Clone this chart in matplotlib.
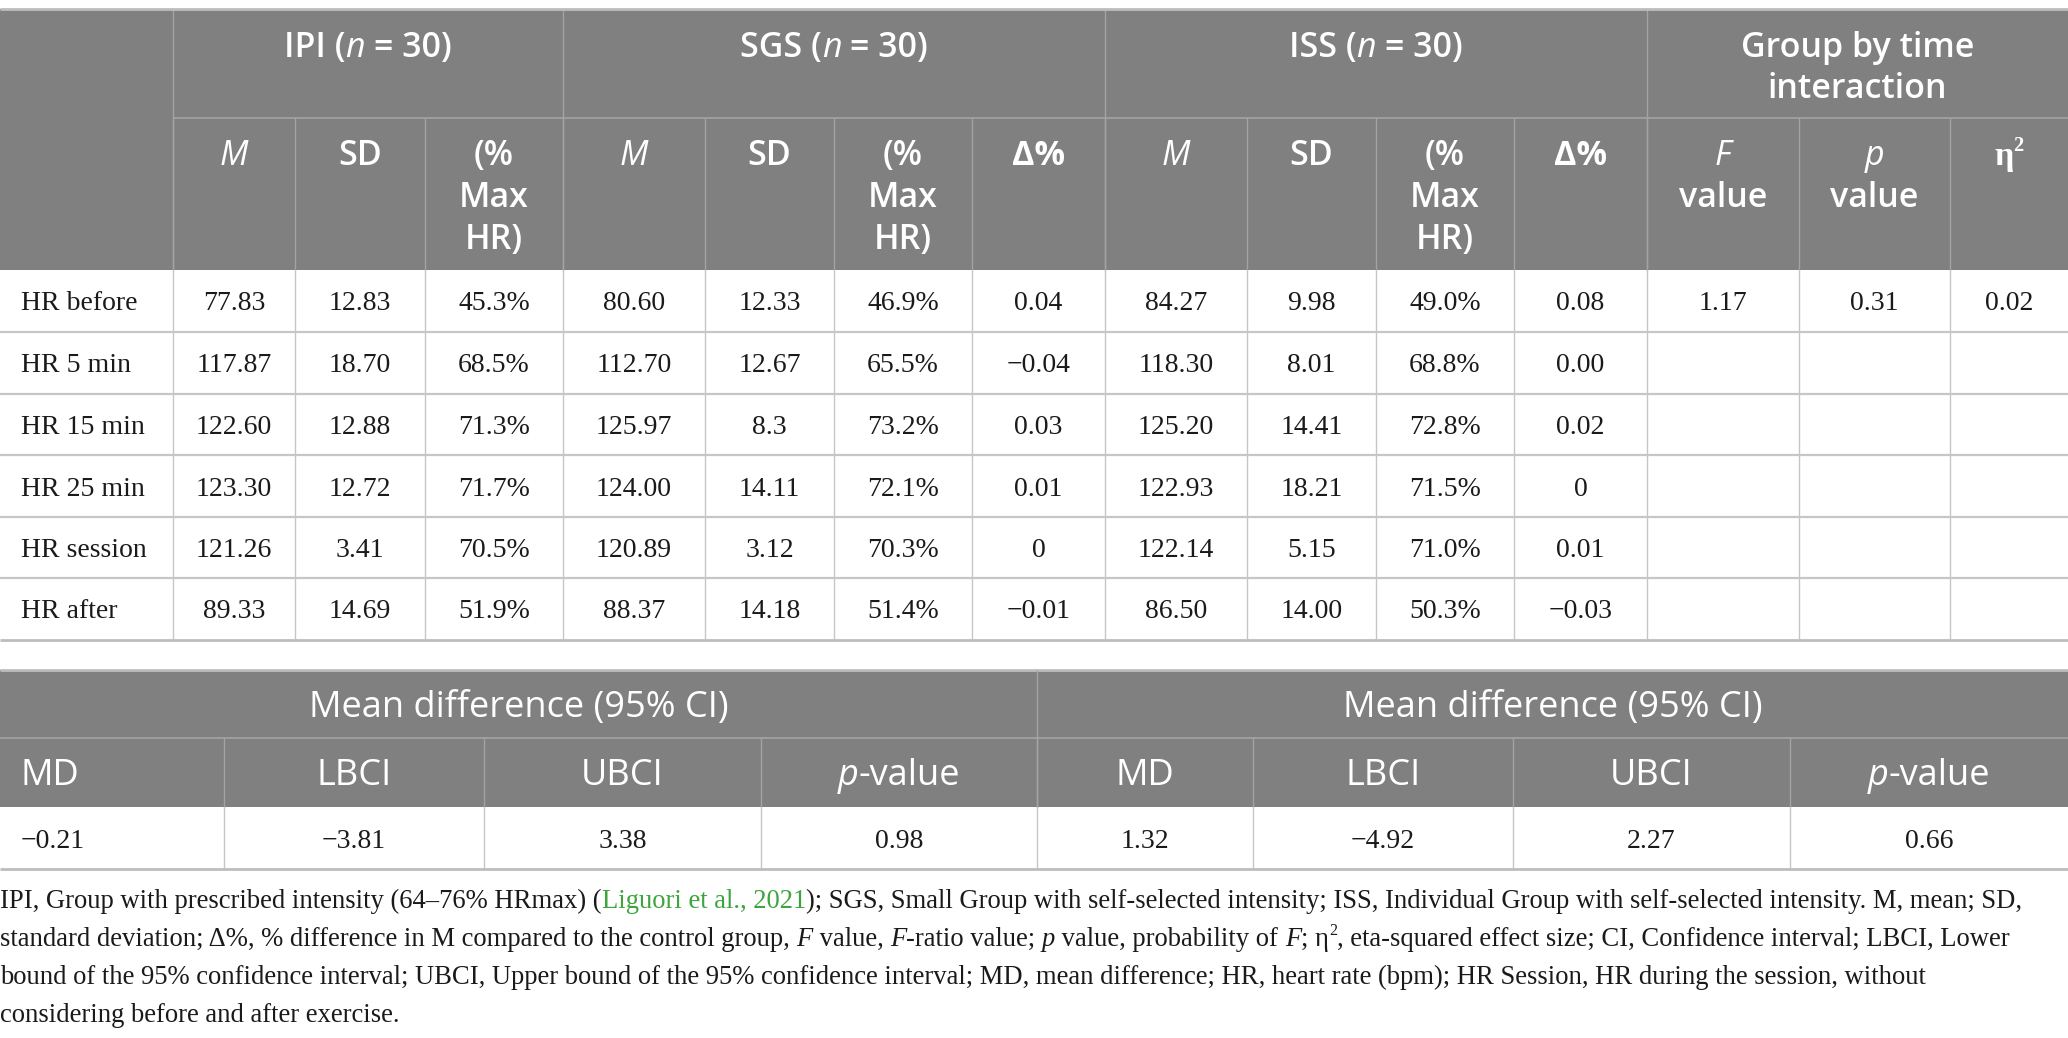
import matplotlib
matplotlib.use('Agg')
import matplotlib.pyplot as plt

# ---- data ----
row_labels = ['HR before', 'HR 5 min', 'HR 15 min', 'HR 25 min', 'HR session', 'HR after']
ipi_m = ['77.83', '117.87', '122.60', '123.30', '121.26', '89.33']
ipi_sd = ['12.83', '18.70', '12.88', '12.72', '3.41', '14.69']
ipi_pct = ['45.3%', '68.5%', '71.3%', '71.7%', '70.5%', '51.9%']
sgs_m = ['80.60', '112.70', '125.97', '124.00', '120.89', '88.37']
sgs_sd = ['12.33', '12.67', '8.3', '14.11', '3.12', '14.18']
sgs_pct = ['46.9%', '65.5%', '73.2%', '72.1%', '70.3%', '51.4%']
sgs_delta = ['0.04', '\u22120.04', '0.03', '0.01', '0', '\u22120.01']
iss_m = ['84.27', '118.30', '125.20', '122.93', '122.14', '86.50']
iss_sd = ['9.98', '8.01', '14.41', '18.21', '5.15', '14.00']
iss_pct = ['49.0%', '68.8%', '72.8%', '71.5%', '71.0%', '50.3%']
iss_delta = ['0.08', '0.00', '0.02', '0', '0.01', '\u22120.03']
f_value = ['1.17', '', '', '', '', '']
p_value = ['0.31', '', '', '', '', '']
eta_sq = ['0.02', '', '', '', '', '']

md_headers = ['MD', 'LBCI', 'UBCI', 'p-value']
md_first = ['\u22120.21', '\u22123.81', '3.38', '0.98']
md_second = ['1.32', '\u22124.92', '2.27', '0.66']

W, H = 2068, 1038
fig = plt.figure(figsize=(W / 100, H / 100), dpi=100)
ax = fig.add_axes([0, 0, 1, 1])
ax.set_xlim(0, W)
ax.set_ylim(H, 0)
ax.axis('off')
renderer = fig.canvas.get_renderer()

HEAD_BG = '#808080'
HEAD_LINE = '#a3a3a3'
GRID = '#c6c6c6'
TXT = '#1a1a1a'
SANS = 'Open Sans'
SERIF = 'Liberation Serif'
PX = 100 / 72.0


def runs(x, y, parts, ha='center', size=19, family=SERIF, color=TXT, weight='normal'):
    # draw a line made of several styled pieces, baseline at y
    objs = []
    for p in parts:
        if isinstance(p, str):
            p = (p, {})
        s, o = p
        fs = size * 0.6 if o.get('sup') else size
        yy = y - size * PX * 0.42 if o.get('sup') else y
        t = ax.text(0, yy, s, fontsize=fs, family=o.get('family', family),
                    style=o.get('style', 'normal'), color=o.get('color', color),
                    weight=o.get('weight', weight), ha='left', va='baseline')
        objs.append(t)
    widths = [t.get_window_extent(renderer).width for t in objs]
    total = sum(widths)
    if ha == 'center':
        x0 = x - total / 2
    elif ha == 'right':
        x0 = x - total
    else:
        x0 = x
    for t, w in zip(objs, widths):
        t.set_x(x0)
        x0 += w


def rect(x0, x1, y0, y1, fc):
    ax.fill_between([x0, x1], y0, y1, color=fc, lw=0, zorder=0)


def hline(x0, x1, y, c, lw):
    ax.plot([x0, x1], [y, y], color=c, lw=lw, solid_capstyle='butt', zorder=2)


def vline(x, y0, y1, c, lw):
    ax.plot([x, x], [y0, y1], color=c, lw=lw, solid_capstyle='butt', zorder=2)


# ---- main table ----
cols = [0, 173, 295, 425, 563, 705, 834, 972, 1105, 1247, 1376, 1514, 1647, 1799, 1950, 2068]
rows = [9, 118, 270, 332, 394, 455, 517, 578, 640]

rect(0, W, rows[0], rows[2], HEAD_BG)
# header lines
hline(173, W, rows[1], HEAD_LINE, 1.2)
for c in [173, 563, 1105, 1647]:
    vline(c, rows[0], rows[2], HEAD_LINE, 1.0)
for c in cols[1:-1]:
    vline(c, rows[1], rows[2], HEAD_LINE, 1.0)
hline(0, W, rows[0], '#bdbdbd', 2.0)

# group headers
hs = 24.5
hw = 'semibold'
group_x = [(173 + 563) / 2, (563 + 1105) / 2, (1105 + 1647) / 2]
for gx, name in zip(group_x, ['IPI', 'SGS', 'ISS']):
    runs(gx, 57, [name + ' (', ('n', {'style': 'italic', 'weight': 'normal'}), ' = 30)'],
         size=hs, family=SANS, color='white', weight=hw)
runs((1647 + W) / 2, 57, ['Group by time'], size=hs, family=SANS, color='white', weight=hw)
runs((1647 + W) / 2, 98, ['interaction'], size=hs, family=SANS, color='white', weight=hw)

# sub headers
sub_base = [165, 207, 249]
centers = [(cols[i] + cols[i + 1]) / 2 for i in range(len(cols) - 1)]
sub = {}
for i in [1, 4, 8]:
    sub[i] = [[('M', {'style': 'italic', 'weight': 'normal'})]]
    sub[i + 1] = [['SD']]
    sub[i + 2] = [['(%'], ['Max'], ['HR)']]
for i in [7, 11]:
    sub[i] = [[('\u0394%', {'weight': 'bold'})]]
sub[12] = [[('F', {'style': 'italic', 'weight': 'normal'})], ['value']]
sub[13] = [[('p', {'style': 'italic', 'weight': 'normal'})], ['value']]
sub[14] = [[('\u03b7', {'family': SERIF, 'weight': 'bold'}),
            ('2', {'family': SERIF, 'sup': True})]]
for i, lines in sub.items():
    for k, parts in enumerate(lines):
        runs(centers[i], sub_base[k], parts, size=hs, family=SANS, color='white', weight=hw)

# body lines
for r in rows[3:-1]:
    hline(0, W, r, GRID, 1.6)
hline(0, W, rows[-1], '#bdbdbd', 2.0)
for c in cols[1:-1]:
    vline(c, rows[2], rows[-1], GRID, 1.0)

cols_data = [ipi_m, ipi_sd, ipi_pct, sgs_m, sgs_sd, sgs_pct, sgs_delta,
             iss_m, iss_sd, iss_pct, iss_delta, f_value, p_value, eta_sq]
bs = 20
for j in range(6):
    yc = (rows[2 + j] + rows[3 + j]) / 2
    yb = yc + 9.5
    runs(21, yb, [row_labels[j]], ha='left', size=bs)
    for i, col in enumerate(cols_data):
        if col[j]:
            runs(centers[i + 1], yb, [col[j]], size=bs)

# ---- mean difference table ----
c2 = [0, 224, 484, 761, 1037, 1253, 1513, 1790, 2068]
r2 = [670, 738, 807, 869]
rect(0, W, r2[0], r2[2], HEAD_BG)
hline(0, W, r2[0], '#bdbdbd', 2.0)
hline(0, W, r2[1], HEAD_LINE, 1.2)
vline(1037, r2[0], r2[2], HEAD_LINE, 1.0)
for c in c2[1:-1]:
    vline(c, r2[1], r2[2], HEAD_LINE, 1.0)
    vline(c, r2[2], r2[3], GRID, 1.0)
hline(0, W, r2[3], '#bdbdbd', 2.0)

hs2 = 26
for half in range(2):
    x0, x1 = c2[half * 4], c2[half * 4 + 4]
    runs((x0 + x1) / 2, 717, ['Mean difference (95% CI)'], size=hs2, family=SANS,
         color='white', weight='medium')
    vals = md_first if half == 0 else md_second
    for k in range(4):
        cx = (c2[half * 4 + k] + c2[half * 4 + k + 1]) / 2
        ha = 'center'
        if half == 0 and k == 0:
            cx, ha = 21, 'left'
        lab = md_headers[k]
        if lab == 'p-value':
            parts = [('p', {'style': 'italic'}), '-value']
        else:
            parts = [lab]
        runs(cx, 785, parts, ha=ha, size=hs2, family=SANS, color='white', weight='normal')
        runs(cx, 848, [vals[k]], ha=ha, size=bs)

# ---- footnote ----
it = {'style': 'italic'}
green = {'color': '#3ea53e'}
note = [
    ['IPI, Group with prescribed intensity (64\u201376% HRmax) (', ('Liguori et al., 2021', green),
     '); SGS, Small Group with self-selected intensity; ISS, Individual Group with self-selected intensity. M, mean; SD,'],
    ['standard deviation; \u0394%, % difference in M compared to the control group, ', ('F', it), ' value, ',
     ('F', it), '-ratio value; ', ('p', it), ' value, probability of ', ('F', it), '; \u03b7', ('2', {'sup': True}),
     ', eta-squared effect size; CI, Confidence interval; LBCI, Lower'],
    ['bound of the 95% confidence interval; UBCI, Upper bound of the 95% confidence interval; MD, mean difference; HR, heart rate (bpm); HR Session, HR during the session, without'],
    ['considering before and after exercise.'],
]
for k, parts in enumerate(note):
    runs(0, 908 + 38 * k, parts, ha='left', size=19.2)

fig.savefig('out.png', dpi=100, facecolor='white')
